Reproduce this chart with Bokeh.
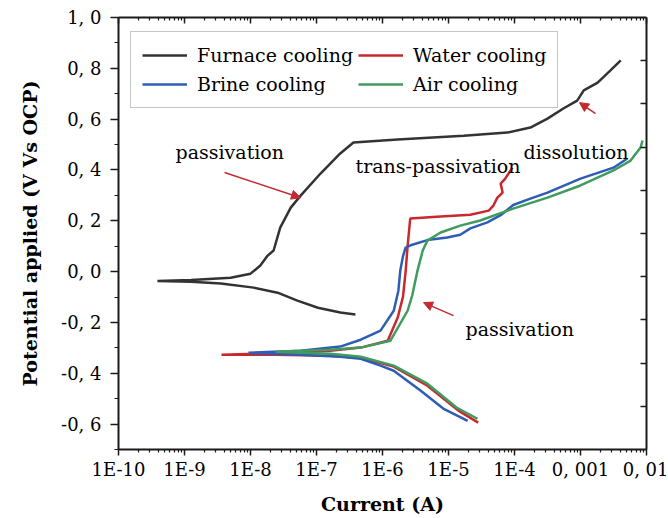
from bokeh.plotting import figure
from bokeh.models import (LogAxis, LinearAxis, FixedTicker, Legend, LegendItem,
                          Label, Arrow, NormalHead, Range1d)
from bokeh.embed import file_html
from bokeh.resources import INLINE

# ---------------- data (current in A, potential in V vs OCP) ----------------
furnace_I = [3.89e-7, 2.29e-7, 1.05e-7, 5.13e-8, 2.57e-8, 1.12e-8, 3.55e-9, 1.26e-9, 3.89e-10,
             1.26e-9, 5.0e-9, 1.0e-8, 1.41e-8, 1.82e-8, 2.24e-8, 2.82e-8, 4.07e-8, 5.75e-8,
             1.15e-7, 2.29e-7, 3.63e-7, 1.70e-6, 1.70e-5, 7.76e-5, 1.74e-4, 3.16e-4, 5.50e-4,
             8.91e-4, 1.12e-3, 1.82e-3, 2.82e-3, 4.07e-3]
furnace_E = [-0.169, -0.161, -0.142, -0.114, -0.083, -0.063, -0.047, -0.040, -0.037,
             -0.033, -0.024, -0.008, 0.024, 0.063, 0.083, 0.173, 0.252, 0.299,
             0.386, 0.465, 0.508, 0.520, 0.535, 0.547, 0.567, 0.602, 0.642,
             0.673, 0.713, 0.744, 0.791, 0.831]

water_I = [2.82e-5, 1.41e-5, 4.79e-6, 1.48e-6, 4.68e-7, 1.62e-7, 2.40e-8, 3.63e-9,
           2.40e-8, 1.62e-7, 4.68e-7, 1.20e-6, 1.70e-6, 2.04e-6, 2.24e-6, 2.40e-6, 2.63e-6,
           7.59e-6, 2.14e-5, 4.07e-5, 4.79e-5, 5.50e-5, 6.61e-5, 6.17e-5, 7.24e-5, 8.71e-5, 9.33e-5]
water_E = [-0.594, -0.547, -0.449, -0.374, -0.339, -0.331, -0.327, -0.327,
           -0.321, -0.311, -0.299, -0.272, -0.181, -0.100, 0.000, 0.100, 0.209,
           0.217, 0.224, 0.240, 0.260, 0.291, 0.311, 0.346, 0.366, 0.398, 0.409]

brine_I = [1.95e-5, 8.32e-6, 3.80e-6, 1.48e-6, 9.33e-7, 4.68e-7, 2.29e-7, 5.75e-8, 9.33e-9,
           5.75e-8, 2.29e-7, 4.68e-7, 9.33e-7, 1.48e-6, 1.74e-6, 1.86e-6, 2.04e-6, 2.24e-6,
           2.82e-6, 4.79e-6, 9.55e-6, 1.51e-5, 2.14e-5, 3.89e-5, 6.17e-5, 9.55e-5, 1.74e-4,
           3.16e-4, 1.0e-3, 3.16e-3, 5.13e-3]
brine_E = [-0.587, -0.539, -0.469, -0.390, -0.370, -0.343, -0.335, -0.327, -0.319,
           -0.311, -0.295, -0.268, -0.232, -0.154, -0.075, 0.004, 0.060, 0.094,
           0.106, 0.124, 0.134, 0.145, 0.170, 0.194, 0.222, 0.262, 0.287,
           0.311, 0.366, 0.409, 0.445]

air_I = [2.75e-5, 1.32e-5, 4.79e-6, 1.48e-6, 4.68e-7, 1.62e-7, 2.40e-8,
         1.62e-7, 4.68e-7, 1.32e-6, 2.40e-6, 2.82e-6, 3.39e-6, 4.07e-6, 4.79e-6, 7.59e-6,
         1.51e-5, 3.02e-5, 9.55e-5, 3.16e-4, 1.0e-3, 3.16e-3, 5.75e-3, 8.13e-3, 8.71e-3]
air_E = [-0.579, -0.535, -0.441, -0.370, -0.335, -0.323, -0.315,
         -0.307, -0.299, -0.272, -0.154, -0.094, 0.004, 0.083, 0.122, 0.154,
         0.181, 0.201, 0.248, 0.291, 0.339, 0.398, 0.437, 0.488, 0.516]

x_ticks = [1e-10, 1e-9, 1e-8, 1e-7, 1e-6, 1e-5, 1e-4, 1e-3, 1e-2]
x_tick_labels = ["1E-10", "1E-9", "1E-8", "1E-7", "1E-6", "1E-5", "1E-4", "0, 001", "0, 01"]
y_ticks = [-0.6, -0.4, -0.2, 0.0, 0.2, 0.4, 0.6, 0.8, 1.0]
y_tick_labels = ["-0, 6", "-0, 4", "-0, 2", "0, 0", "0, 2", "0, 4", "0, 6", "0, 8", "1, 0"]
y_minor = [-0.7, -0.5, -0.3, -0.1, 0.1, 0.3, 0.5, 0.7, 0.9]
right_ticks = [0.83, 0.66, 0.49, 0.32, 0.15, -0.02, -0.19, -0.36, -0.53]

x_minor = [m * d for d in x_ticks[:-1] for m in range(2, 10)]

SERIF = "DejaVu Serif"
RED = "#c42a2f"
COLORS = {"furnace": "#333333", "water": "#c8282e", "brine": "#2d5db4", "air": "#3f9b5f"}

p = figure(width=668, height=518, x_axis_type="log",
           x_range=Range1d(1e-10, 1e-2), y_range=Range1d(-0.7, 1.0),
           output_backend="svg", toolbar_location=None,
           min_border_left=118, min_border_right=22, min_border_top=17, min_border_bottom=69)
p.grid.visible = False
p.outline_line_color = None
p.background_fill_color = "white"

AX_COLOR = "#1a1a1a"

# bottom axis
xa = p.xaxis[0]
xa.ticker = FixedTicker(ticks=x_ticks, minor_ticks=x_minor)
xa.major_label_overrides = dict(zip(x_ticks, x_tick_labels))
xa.axis_label = "Current (A)"
# left axis
ya = p.yaxis[0]
ya.ticker = FixedTicker(ticks=y_ticks, minor_ticks=y_minor)
ya.major_label_overrides = dict(zip(y_ticks, y_tick_labels))
ya.axis_label = "Potential applied (V Vs OCP)"

for ax in (xa, ya):
    ax.axis_line_color = AX_COLOR
    ax.axis_line_width = 2
    ax.major_tick_line_color = AX_COLOR
    ax.minor_tick_line_color = AX_COLOR
    ax.major_tick_line_width = 1.5
    ax.minor_tick_line_width = 1.2
    ax.major_tick_in = 0
    ax.minor_tick_in = 0
    ax.major_label_text_font = SERIF
    ax.major_label_text_font_size = "18px"
    ax.major_label_text_color = "black"
    ax.axis_label_text_font = SERIF
    ax.axis_label_text_font_size = "19px"
    ax.axis_label_text_font_style = "bold"
    ax.axis_label_text_color = "black"

xa.major_tick_out = 6
xa.minor_tick_out = 3
xa.major_label_standoff = 3
xa.axis_label_standoff = 10
ya.major_tick_out = 8
ya.minor_tick_out = 4
ya.major_label_standoff = 9
ya.axis_label_standoff = 17

# top axis (ticks inside, no labels)
top = LogAxis(ticker=FixedTicker(ticks=x_ticks, minor_ticks=x_minor))
top.major_label_text_font_size = "1px"
top.major_label_text_alpha = 0
top.major_tick_in = 6
top.major_tick_out = 0
top.minor_tick_in = 3
top.minor_tick_out = 0
top.major_label_standoff = 0
p.add_layout(top, "above")

# right axis (ticks inside, no labels)
right = LinearAxis(ticker=FixedTicker(ticks=right_ticks, minor_ticks=[]))
right.major_label_text_font_size = "1px"
right.major_label_text_alpha = 0
right.major_tick_in = 6
right.major_tick_out = 0
right.major_label_standoff = 0
p.add_layout(right, "right")

for ax in (top, right):
    ax.axis_line_color = AX_COLOR
    ax.axis_line_width = 2
    ax.major_tick_line_color = AX_COLOR
    ax.minor_tick_line_color = AX_COLOR
    ax.major_tick_line_width = 1.5
    ax.minor_tick_line_width = 1.2

# curves
LW = 2.5
rf = p.line(furnace_I, furnace_E, line_color=COLORS["furnace"], line_width=LW)
rw = p.line(water_I, water_E, line_color=COLORS["water"], line_width=LW)
rb = p.line(brine_I, brine_E, line_color=COLORS["brine"], line_width=LW)
ra = p.line(air_I, air_E, line_color=COLORS["air"], line_width=LW)

legend = Legend(items=[LegendItem(label="Furnace cooling", renderers=[rf]),
                       LegendItem(label="Brine cooling", renderers=[rb]),
                       LegendItem(label="Water cooling", renderers=[rw]),
                       LegendItem(label="Air cooling", renderers=[ra])],
                location=(12, 341), orientation="vertical", nrows=2,
                label_text_font=SERIF, label_text_font_size="19px",
                label_text_color="black",
                glyph_width=45, glyph_height=24, label_standoff=10, label_height=24,
                padding=11, spacing=5, margin=0,
                border_line_color="#8c8c8c", border_line_width=1,
                background_fill_color="white", background_fill_alpha=1)
p.add_layout(legend)

# annotations
def label(x, y, text):
    p.add_layout(Label(x=x, y=y, text=text, text_font=SERIF, text_font_size="19px",
                       text_color="black", text_align="left", text_baseline="alphabetic"))

label(7.31e-10, 0.470, "passivation")
label(3.90e-7, 0.417, "trans-passivation")
label(1.37e-4, 0.470, "dissolution")
label(1.81e-5, -0.224, "passivation")

def arrow(x0, y0, x1, y1):
    p.add_layout(Arrow(end=NormalHead(size=9, fill_color=RED, line_color=RED, line_width=1),
                       x_start=x0, y_start=y0, x_end=x1, y_end=y1,
                       line_color=RED, line_width=1.5))

arrow(4.04e-9, 0.390, 5.73e-8, 0.291)
arrow(1.69e-3, 0.622, 9.66e-4, 0.665)
arrow(1.19e-5, -0.173, 4.18e-6, -0.122)

open("out.html", "w").write(file_html(p, INLINE))
